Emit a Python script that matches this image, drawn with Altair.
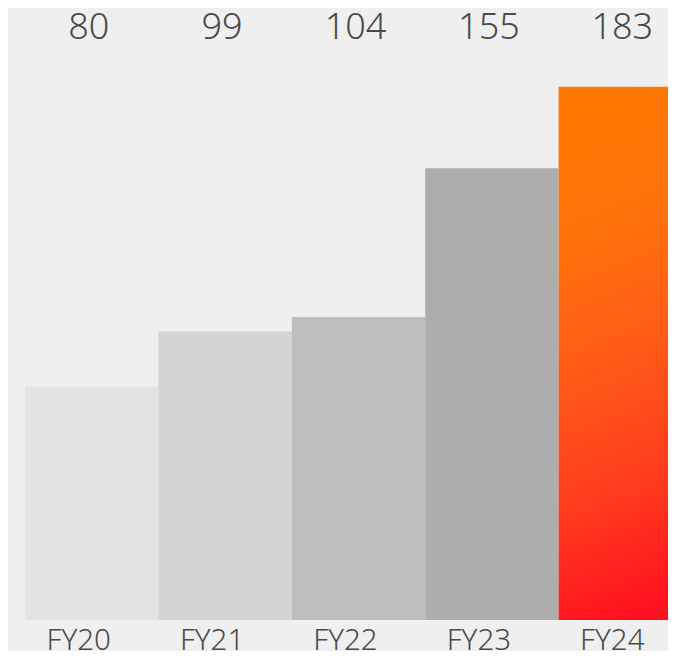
import altair as alt
import pandas as pd

years = ["FY20", "FY21", "FY22", "FY23", "FY24"]
values = [80, 99, 104, 155, 183]
bar_colors = ["#e3e3e3", "#d4d4d4", "#bebebe", "#adadad", "#ff4010"]

df = pd.DataFrame({"year": years, "value": values, "color": bar_colors})

FONT = "Noto Sans"
TEXT = "#4a4a4a"

xscale = alt.Scale(domain=years, range=[0, 667], paddingInner=0, paddingOuter=0)
yscale = alt.Scale(domain=[0, 210], nice=False)

x_enc = alt.X("year:N", scale=xscale, sort=years, axis=None)

grey = alt.Chart(df).transform_filter(alt.datum.year != "FY24").mark_bar(clip=True).encode(
    x=x_enc,
    y=alt.Y("value:Q", scale=yscale, axis=None),
    color=alt.Color("color:N", scale=None),
)

grad = alt.Gradient(
    gradient="linear",
    stops=[alt.GradientStop(color="#ff7800", offset=0),
           alt.GradientStop(color="#ff720c", offset=0.25),
           alt.GradientStop(color="#ff5a18", offset=0.5),
           alt.GradientStop(color="#ff3c1e", offset=0.75),
           alt.GradientStop(color="#ff1020", offset=1)],
    x1=0.45, x2=0.55, y1=0, y2=1,
)

hi = alt.Chart(df).transform_filter(alt.datum.year == "FY24").mark_bar(clip=True, color=grad).encode(
    x=x_enc,
    y=alt.Y("value:Q", scale=yscale),
)

labels = alt.Chart(df).mark_text(fontSize=36, font=FONT, fontWeight=300, color=TEXT,
                                 baseline="alphabetic", dx=-3).encode(
    x=x_enc,
    y=alt.value(31),
    text=alt.Text("value:Q"),
)

cats = alt.Chart(df).mark_text(fontSize=29.5, font=FONT, fontWeight=300, color=TEXT,
                               baseline="alphabetic", dx=-13).encode(
    x=x_enc,
    y=alt.value(642),
    text=alt.Text("year:N"),
)

chart = alt.layer(grey, hi, labels, cats).properties(
    width=643, height=612,
    background="#efefef",
    padding={"left": 17, "top": 0, "right": 0, "bottom": 31},
    autosize=alt.AutoSizeParams(type="none"),
).configure_view(stroke=None)

chart.save("out.html", embed_options={"renderer": "svg", "actions": False})
